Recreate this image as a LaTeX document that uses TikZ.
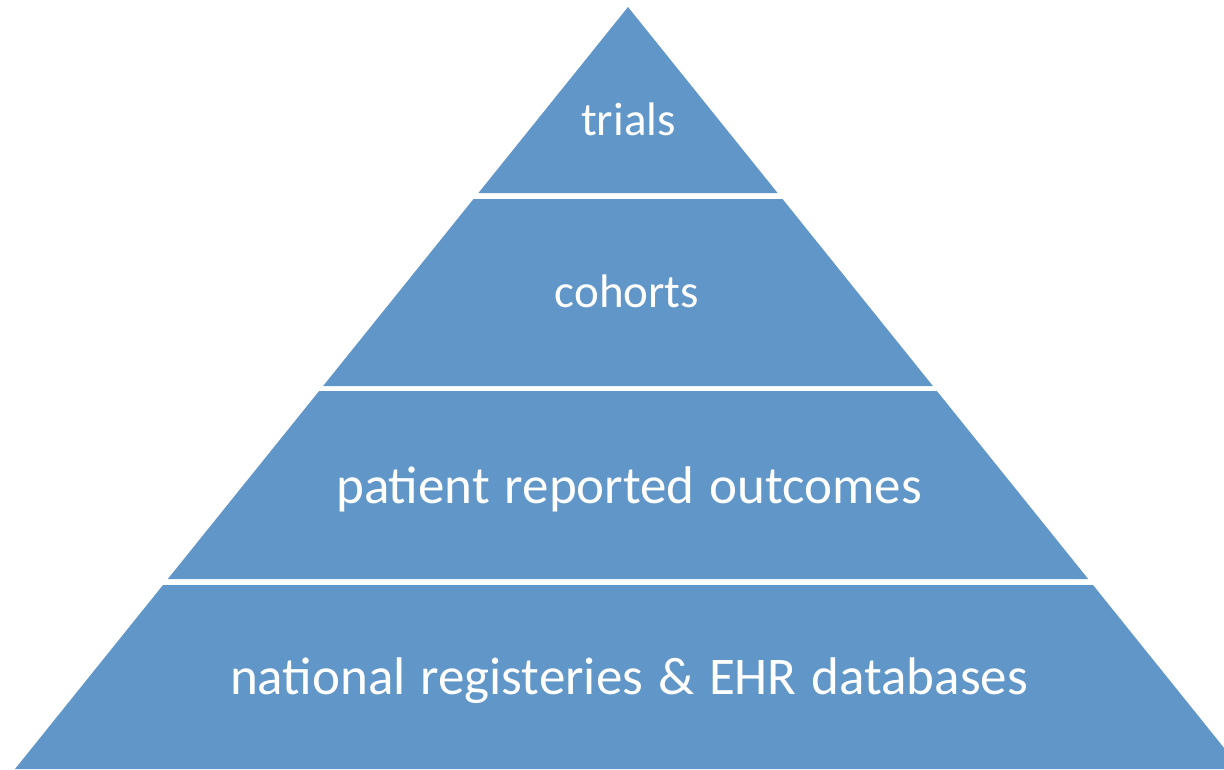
\documentclass[tikz,border=0pt]{standalone}
\usepackage{fontspec}
\setmainfont{Carlito}
\definecolor{LayerBlue}{RGB}{97, 150, 200}
\usepackage{tikz}
\newcommand{\widewords}{\spaceskip=0.28em plus 0pt\relax}

\begin{document}
\begin{tikzpicture}[
        x=1pt, y=-1pt,
        layer/.style={fill=LayerBlue},
        tier/.style={anchor=base, text=white, inner sep=0pt},
        toptier/.style={tier, font=\fontsize{47}{56}\selectfont},
        widetier/.style={tier, font=\fontsize{53}{63}\selectfont\widewords}
    ]
        \clip (0,0) rectangle (1224,769);

        \fill[layer] (628,7) -- (777.6,193) -- (478.4,193) -- cycle;
        \fill[layer] (473.5,199) -- (782.5,199) -- (932.9,386) -- (323.1,386) -- cycle;
        \fill[layer] (319.1,391) -- (936.9,391) -- (1088.2,579) -- (167.8,579) -- cycle;
        \fill[layer] (163,585) -- (1093,585) -- (1241,769) -- (15,769) -- cycle;

        \node[toptier] (trials) at (628.5,135) {trials};
        \node[toptier] (cohorts) at (627,307) {cohorts};
        \node[widetier] (pro) at (629,503) {patient reported outcomes};
        \node[widetier] (registries) at (629,694) {national registeries \& EHR databases};
    \end{tikzpicture}
\end{document}
